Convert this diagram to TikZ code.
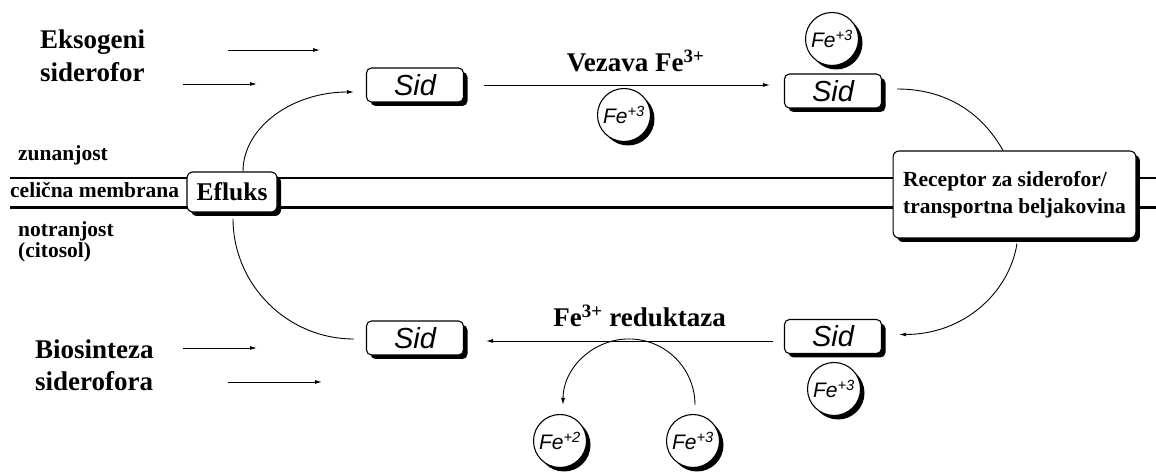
\documentclass[tikz,border=0pt]{standalone}
\usepackage{fontspec}
\setmainfont{Liberation Serif}
\newfontfamily\sansit{Liberation Sans}
\usetikzlibrary{shadows,arrows.meta}

\begin{document}
\begin{tikzpicture}[x=1pt,y=1pt,
  arr/.style={line width=0.9pt,-{Latex[length=7pt,width=4pt]}},
  link/.style={line width=0.9pt},
  boxshadow/.style={drop shadow={shadow xshift=4pt,shadow yshift=-4pt,fill=black,opacity=1}},
  sidbox/.style={draw,line width=1.1pt,rounded corners=5pt,fill=white,boxshadow,
    minimum width=97pt,minimum height=34pt,inner sep=0pt,
    font=\sansit\itshape\fontsize{29}{30}\selectfont},
  ion/.style={draw,circle,line width=1.1pt,fill=white,boxshadow,minimum size=53pt,
    inner sep=0pt,font=\sansit\itshape\fontsize{21}{22}\selectfont},
  plainbox/.style={draw,line width=1.1pt,rounded corners=6pt,fill=white,boxshadow},
  lbl/.style={anchor=base west,inner sep=0pt,font=\bfseries\fontsize{27}{30}\selectfont},
  zone/.style={anchor=base west,inner sep=0pt,font=\bfseries\fontsize{21.5}{24}\selectfont},
  steplbl/.style={inner sep=0pt,font=\bfseries\fontsize{27}{30}\selectfont},
]
\path[fill=white] (0,0) rectangle (1156,473);
\useasboundingbox (0,0) rectangle (1156,473);

% cell membrane
\coordinate (mUl) at (10,295);   \coordinate (mUr) at (1156,295);
\coordinate (mLl) at (10,265.5); \coordinate (mLr) at (1156,265.5);
\draw[line width=1.6pt] (mUl) -- (mUr);
\draw[line width=3pt] (mLl) -- (mLr);

% side labels
\node[lbl] (eks1) at (40,424) {Eksogeni};
\node[lbl] (eks2) at (40,391) {siderofor};
\node[lbl] (bio1) at (35,114) {Biosinteza};
\node[lbl] (bio2) at (35,82) {siderofora};
\node[zone] (zun) at (18,312) {zunanjost};
\node[zone] (mem) at (10,275) {celična membrana};
\node[zone] (not1) at (18,236) {notranjost};
\node[zone] (not2) at (18,215) {(citosol)};

% boxes
\node[plainbox,font=\bfseries\fontsize{25.5}{28}\selectfont,minimum width=90pt,
  minimum height=40pt,inner sep=0pt] (efl) at (232,281) {Efluks};
\node[plainbox,align=left,font=\bfseries\fontsize{21.5}{27}\selectfont,
  minimum height=87pt,inner xsep=10pt] (rec) at (1014.5,278.5)
  {Receptor za siderofor/\\transportna beljakovina};

\node[sidbox] (S1) at (415,388) {Sid};
\node[sidbox] (S2) at (833,382) {Sid};
\node[sidbox] (S3) at (415,135) {Sid};
\node[sidbox] (S4) at (833,136.5) {Sid};

% iron ions
\node[ion] (C1) at (624,358) {Fe\textsuperscript{+3}};
\node[ion] (C2) at (832,434) {Fe\textsuperscript{+3}};
\node[ion] (C3) at (834,84) {Fe\textsuperscript{+3}};
\node[ion] (C4) at (560,32) {Fe\textsuperscript{+2}};
\node[ion] (C5) at (693,32) {Fe\textsuperscript{+3}};

% incoming arrows
\coordinate (e1a) at (228,423); \coordinate (e1b) at (320,423);
\coordinate (e2a) at (183,389); \coordinate (e2b) at (257,389);
\coordinate (b1a) at (183,125); \coordinate (b1b) at (257,125);
\coordinate (b2a) at (228,91);  \coordinate (b2b) at (322,91);
\draw[arr] (e1a) -- (e1b);
\draw[arr] (e2a) -- (e2b);
\draw[arr] (b1a) -- (b1b);
\draw[arr] (b2a) -- (b2b);

% iron binding
\draw[arr] ([xshift=20pt]S1.east) -- ([xshift=-14pt]S1.east -| S2.west)
  node[steplbl,pos=0.53,above=13pt] {Vezava Fe\textsuperscript{3+}};

% iron reduction
\draw[arr] ([xshift=-11pt,yshift=-3pt]S3.east -| S4.west) -- ([xshift=22pt,yshift=-3pt]S3.east)
  node[steplbl,pos=0.465,above=14pt] {Fe\textsuperscript{3+} reduktaza};
\draw[arr] ([xshift=2pt,yshift=9pt]C5.north) arc[start angle=0,end angle=180,radius=66pt];

% transport loop
\draw[arr] ([xshift=11pt]efl.north) .. controls +(0,44) and +(-62,0) .. ([xshift=-12pt,yshift=-7pt]S1.west);
\draw[link] ([xshift=1pt,yshift=-6pt]efl.south) .. controls +(0,-66) and +(-67,0) .. ([xshift=-12pt,yshift=-1pt]S3.west);
\draw[link] ([xshift=15pt,yshift=2pt]S2.east) .. controls +(55,0) and +(-18,32) .. ([xshift=-11.5pt]rec.north);
\draw[arr] ([xshift=2.5pt,yshift=-5pt]rec.south) .. controls +(-8,-50) and +(64,0) .. ([xshift=17pt,yshift=2pt]S4.east);
\end{tikzpicture}
\end{document}
